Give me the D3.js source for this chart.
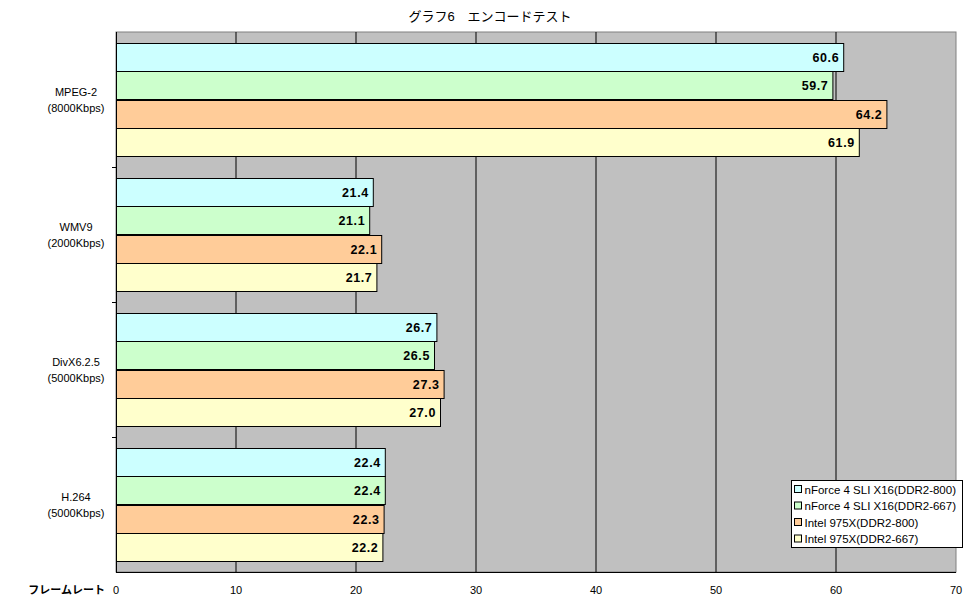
<!DOCTYPE html>
<html>
<head>
<meta charset="utf-8">
<script src="https://cdn.jsdelivr.net/npm/d3@7"></script>
<style>
  body { margin: 0; background: #fff; }
  svg { font-family: "Liberation Sans", "Noto Sans CJK JP", sans-serif; }
</style>
</head>
<body>
<svg id="chart"></svg>
<script>
const categories = ["MPEG-2", "WMV9", "DivX6.2.5", "H.264"];
const categorySub = ["(8000Kbps)", "(2000Kbps)", "(5000Kbps)", "(5000Kbps)"];
const seriesNames = [
  "nForce 4 SLI X16(DDR2-800)",
  "nForce 4 SLI X16(DDR2-667)",
  "Intel 975X(DDR2-800)",
  "Intel 975X(DDR2-667)"
];
const seriesColors = ["#ccffff", "#ccffcc", "#ffcc99", "#ffffcc"];
const nforce800 = [60.6, 21.4, 26.7, 22.4];
const nforce667 = [59.7, 21.1, 26.5, 22.4];
const intel800 = [64.2, 22.1, 27.3, 22.3];
const intel667 = [61.9, 21.7, 27.0, 22.2];
const xTicks = [0, 10, 20, 30, 40, 50, 60, 70];

const series = [nforce800, nforce667, intel800, intel667];

const width = 970, height = 604;
const margin = { top: 32, right: 14, bottom: 32, left: 116 };
const plotW = width - margin.left - margin.right;
const plotH = height - margin.top - margin.bottom;

const svg = d3.select("#chart").attr("width", width).attr("height", height);

const x = d3.scaleLinear().domain([0, 70]).range([0, plotW]);
const y = d3.scaleBand().domain(categories).range([0, plotH]).paddingInner(0.158).paddingOuter(0.079);
const ySub = d3.scaleBand().domain(d3.range(series.length)).range([0, y.bandwidth()]);

// title
svg.append("text")
  .attr("x", 490).attr("y", 21)
  .attr("text-anchor", "middle")
  .style("font-size", "13px")
  .text("グラフ6　エンコードテスト");

const g = svg.append("g").attr("transform", `translate(${margin.left},${margin.top})`);

// plot background
g.append("rect")
  .attr("width", plotW).attr("height", plotH)
  .attr("fill", "#c0c0c0")
  .attr("stroke", "#808080");

// gridlines
g.selectAll(".grid")
  .data(xTicks.slice(1, -1))
  .join("line")
  .attr("x1", d => x(d)).attr("x2", d => x(d))
  .attr("y1", 0).attr("y2", plotH)
  .attr("stroke", "#000");

// bars
const rows = [];
categories.forEach((c, ci) => {
  series.forEach((s, si) => rows.push({ cat: c, si: si, v: s[ci] }));
});

g.selectAll(".bar")
  .data(rows)
  .join("rect")
  .attr("x", 0.5)
  .attr("y", d => Math.round(y(d.cat) + ySub(d.si)) + 0.5)
  .attr("width", d => x(d.v))
  .attr("height", Math.round(ySub.bandwidth()))
  .attr("fill", d => seriesColors[d.si])
  .attr("stroke", "#000")
  .attr("stroke-width", 1);

g.selectAll(".val")
  .data(rows)
  .join("text")
  .attr("x", d => x(d.v) - 4)
  .attr("y", d => y(d.cat) + ySub(d.si) + ySub.bandwidth() / 2 + 5)
  .attr("text-anchor", "end")
  .style("font-size", "12.5px")
  .style("font-weight", "bold")
  .style("letter-spacing", "0.6px")
  .text(d => d.v.toFixed(1));

// left axis
g.append("line")
  .attr("x1", 0.5).attr("x2", 0.5).attr("y1", 0).attr("y2", plotH)
  .attr("stroke", "#000");
g.selectAll(".ytick")
  .data(d3.range(1, categories.length))
  .join("line")
  .attr("x1", -4).attr("x2", 0)
  .attr("y1", d => Math.round(y.step() * d + y.paddingOuter() * y.step() - y.paddingInner() * y.step() / 2) + 0.5)
  .attr("y2", d => Math.round(y.step() * d + y.paddingOuter() * y.step() - y.paddingInner() * y.step() / 2) + 0.5)
  .attr("stroke", "#000");

// bottom axis line
g.append("line")
  .attr("x1", 0).attr("x2", plotW).attr("y1", plotH + 0.5).attr("y2", plotH + 0.5)
  .attr("stroke", "#000");

// category labels
const catLabel = svg.selectAll(".cat")
  .data(categories)
  .join("text")
  .attr("text-anchor", "middle")
  .style("font-size", "11px")
  .attr("transform", d => `translate(76,${margin.top + y(d) + y.bandwidth() / 2})`);
catLabel.append("tspan").attr("x", 0).attr("y", -4).text(d => d);
catLabel.append("tspan").attr("x", 0).attr("y", 12).text((d, i) => categorySub[i]);

// x tick labels
svg.selectAll(".xlab")
  .data(xTicks)
  .join("text")
  .attr("x", d => margin.left + x(d))
  .attr("y", 594)
  .attr("text-anchor", "middle")
  .style("font-size", "11px")
  .text(d => d);

svg.append("text")
  .attr("x", 105).attr("y", 594)
  .attr("text-anchor", "end")
  .style("font-size", "11px")
  .style("font-weight", "bold")
  .text("フレームレート");

// legend
const lg = svg.append("g").attr("transform", "translate(791.5,480.5)");
lg.append("rect")
  .attr("width", 171).attr("height", 67)
  .attr("fill", "#fff").attr("stroke", "#000");
const li = lg.selectAll(".li")
  .data(seriesNames)
  .join("g")
  .attr("transform", (d, i) => `translate(3,${9 + i * 16.5})`);
li.append("rect")
  .attr("x", 0).attr("y", -4).attr("width", 7).attr("height", 7)
  .attr("fill", (d, i) => seriesColors[i]).attr("stroke", "#000");
li.append("text")
  .attr("x", 10).attr("y", 4)
  .style("font-size", "11.5px")
  .text(d => d);
</script>
</body>
</html>
